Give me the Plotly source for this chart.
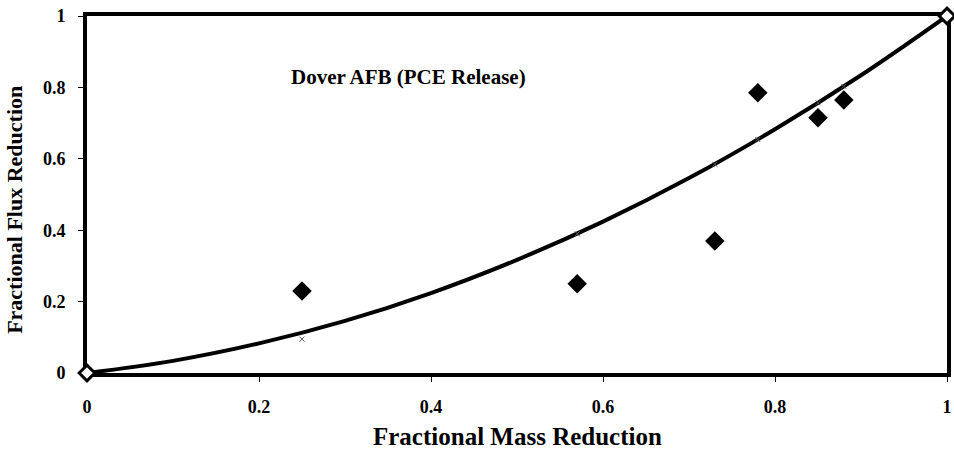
import plotly.graph_objects as go

# Observed field data
obs_x = [0.25, 0.57, 0.73, 0.78, 0.85, 0.88]
obs_y = [0.23, 0.25, 0.37, 0.785, 0.715, 0.765]

# Model curve
curve_x = [0.0, 0.1, 0.2, 0.3, 0.4, 0.5, 0.6, 0.7, 0.8, 0.9, 1.0]
curve_y = [0.0, 0.034, 0.083, 0.146, 0.224, 0.317, 0.424, 0.546, 0.683, 0.834, 1.0]

# Model predictions at observed mass reductions
pred_x = [0.25, 0.57, 0.73, 0.78, 0.85, 0.88]
pred_y = [0.095, 0.39, 0.585, 0.654, 0.757, 0.803]

# End points
end_x = [0.0, 1.0]
end_y = [0.0, 1.0]

tick_vals = [0, 0.2, 0.4, 0.6, 0.8, 1]
tick_text = ["<b>0</b>", "<b>0.2</b>", "<b>0.4</b>", "<b>0.6</b>", "<b>0.8</b>", "<b>1</b>"]

font_family = "Liberation Serif"

fig = go.Figure()
fig.add_trace(go.Scatter(x=curve_x, y=curve_y, mode="lines",
                         line=dict(color="black", width=4, shape="spline", smoothing=1.0),
                         showlegend=False, hoverinfo="skip", cliponaxis=False))
fig.add_trace(go.Scatter(x=pred_x, y=pred_y, mode="markers",
                         marker=dict(symbol="x-thin", size=5, color="#555",
                                     line=dict(width=1, color="#555")),
                         showlegend=False))
fig.add_trace(go.Scatter(x=obs_x, y=obs_y, mode="markers",
                         marker=dict(symbol="diamond", size=15, color="black"),
                         showlegend=False))
fig.add_trace(go.Scatter(x=end_x, y=end_y, mode="markers",
                         marker=dict(symbol="diamond", size=12, color="white",
                                     line=dict(width=3, color="black")),
                         showlegend=False, cliponaxis=False))

axis_common = dict(
    range=[0, 1], tickvals=tick_vals, ticktext=tick_text,
    showgrid=False, zeroline=False, automargin=False, layer="below traces",
    showline=True, linecolor="black", linewidth=4, mirror=True,
    ticks="outside", ticklen=5, tickwidth=1, tickcolor="black",
    tickfont=dict(family=font_family, size=18, color="black"),
)

fig.update_layout(
    width=954, height=451,
    margin=dict(l=87, r=7, t=16, b=78),
    plot_bgcolor="white", paper_bgcolor="white",
    xaxis=dict(**axis_common, ticklabelstandoff=9),
    yaxis=dict(**axis_common, ticklabelstandoff=9),
    annotations=[
        dict(x=0.374, y=0.83, xref="x", yref="y",
             text="<b>Dover AFB (PCE Release)</b>", showarrow=False,
             font=dict(family=font_family, size=21, color="black")),
        dict(x=0.5, y=-0.179, xref="paper", yref="paper",
             xanchor="center", yanchor="middle",
             text="<b>Fractional Mass Reduction</b>", showarrow=False,
             font=dict(family=font_family, size=25, color="black")),
        dict(x=-0.0837, y=0.457, xref="paper", yref="paper", textangle=-90,
             xanchor="center", yanchor="middle",
             text="<b>Fractional Flux Reduction</b>", showarrow=False,
             font=dict(family=font_family, size=22, color="black")),
    ],
)

fig.write_html(
    "out.html",
    config={"displayModeBar": False},
    post_script="document.body.style.margin='0';document.body.style.overflow='hidden';",
)
